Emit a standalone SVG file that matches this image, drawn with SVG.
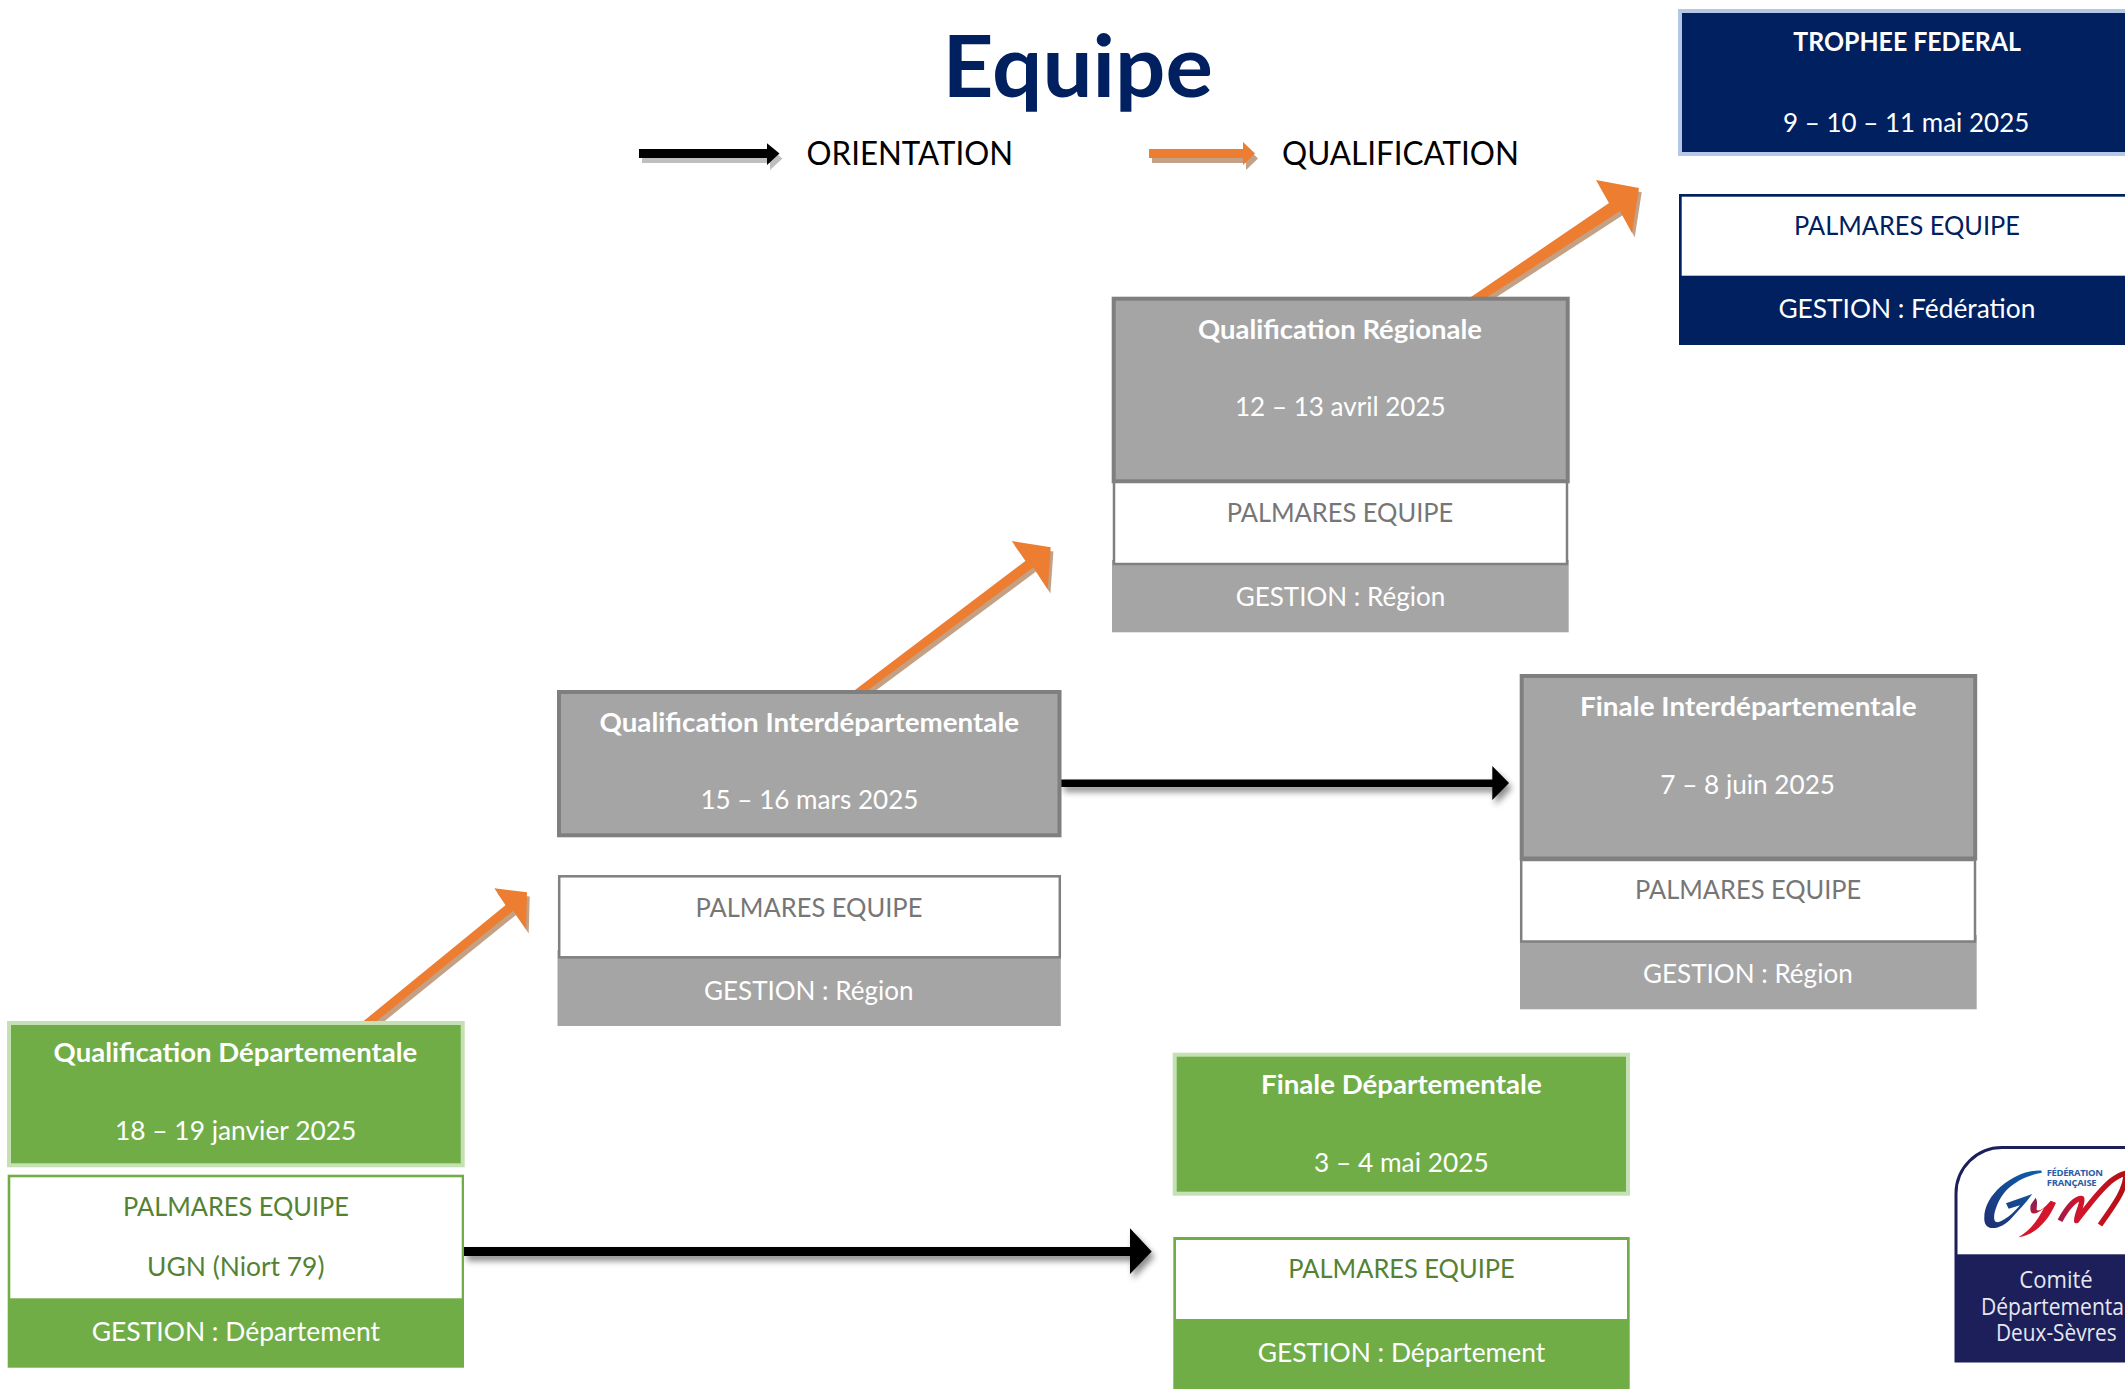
<svg xmlns="http://www.w3.org/2000/svg" width="2125" height="1389" viewBox="0 0 2125 1389">
<style>
text{font-family:"Lato","Carlito","Open Sans",sans-serif;font-size:27.5px;transform:translateY(.7px)}
.b{font-weight:700}
.w{fill:#fff}
.gr{fill:#767676}
.gn{fill:#548235}
.nv{fill:#002060}
.leg{font-size:33px;fill:#000}
.logo{font-family:"Open Sans",sans-serif;font-size:23.5px;fill:#e6e7ef}
.fed{font-family:"Open Sans",sans-serif;font-size:9.5px;font-weight:700;fill:#2a5ca8}
.hgreen{fill:#70ad47;stroke:#c5e0b4;stroke-width:4}
.hgrey{fill:#a5a5a5;stroke:#7f7f7f;stroke-width:4}
.hnavy{fill:#002060;stroke:#b4c7e7;stroke-width:4}
.bgreen{fill:#70ad47}.bgrey{fill:#a5a5a5}.bnavy{fill:#002060}
.inner{fill:#fff}
.or{fill:#ed7d31}.ors{fill:#c4a084}
.bl{fill:#000}.bls{fill:#bfbfbf}
</style>
<defs>
<filter id="soft" x="-5%" y="-60%" width="110%" height="220%"><feDropShadow dx="3" dy="5" stdDeviation="3" flood-color="#000" flood-opacity="0.45"/></filter>
<linearGradient id="gG" x1="1" y1="0" x2="0" y2="1"><stop offset="0" stop-color="#0b62ae"/><stop offset="1" stop-color="#1f2f72"/></linearGradient>
<linearGradient id="gY" x1="0" y1="0" x2="1" y2="1"><stop offset="0" stop-color="#3a2f80"/><stop offset="0.5" stop-color="#d3142a"/><stop offset="1" stop-color="#e01a2b"/></linearGradient>
<linearGradient id="gM" gradientUnits="userSpaceOnUse" x1="420" y1="0" x2="615" y2="0"><stop offset="0" stop-color="#a01c48"/><stop offset="0.3" stop-color="#d3142a"/><stop offset="1" stop-color="#b30f14"/></linearGradient>
<polygon id="a1" points="1466.6,300 1609,203 1596,180 1639,188 1632,233 1620,211 1482.6,300"/>
<polygon id="a2" points="851,693 1025.7,560.7 1011.7,541 1050.7,547.3 1047.7,589.3 1033.3,567.3 864,693"/>
<polygon id="a3" points="360,1024 505.7,905 494.3,888.3 527,892.3 526,929.3 513.3,910.7 373,1024"/>
<polygon id="lk" points="639,149 767,149 767,143.3 779.5,153.5 767,165 767,158 639,158"/>
<polygon id="lo" points="1149,149 1243,149 1243,142 1255,153.5 1243,165 1243,158 1149,158"/>
</defs>
<rect width="2125" height="1389" fill="#fff"/>

<g id="connectors">
<use href="#lk" class="bls" transform="translate(3,5)"/><use href="#lk" class="bl"/>
<use href="#lo" class="ors" transform="translate(3,5)"/><use href="#lo" class="or"/>
<use href="#a1" class="ors" transform="translate(2.7,4.3)"/><use href="#a1" class="or"/>
<use href="#a2" class="ors" transform="translate(2.7,4.3)"/><use href="#a2" class="or"/>
<use href="#a3" class="ors" transform="translate(2.7,4.3)"/><use href="#a3" class="or"/>
<polygon class="bl" filter="url(#soft)" points="464,1247 1130,1247 1130,1228.3 1151.7,1251.5 1130,1274 1130,1256 464,1256"/>
<polygon class="bl" filter="url(#soft)" points="1061,779.5 1492.3,779.5 1492.3,766 1509,783 1492.3,800 1492.3,787 1061,787"/>
</g>

<g id="title"><text class="b nv" style="font-size:87px" x="942.6" y="96.7" textLength="270.4" lengthAdjust="spacingAndGlyphs">Equipe</text></g>
<g id="legend">
<text class="leg" x="806.6" y="164" textLength="206.4" lengthAdjust="spacingAndGlyphs">ORIENTATION</text>
<text class="leg" x="1282" y="164" textLength="237" lengthAdjust="spacingAndGlyphs">QUALIFICATION</text>
</g>

<g id="trophee-federal">
<rect class="hnavy" x="1680" y="11" width="460" height="143"/>
<text class="b w" x="1793.3" y="50.7" textLength="227.7" lengthAdjust="spacingAndGlyphs">TROPHEE FEDERAL</text>
<text class="w" x="1783" y="131" textLength="246.3" lengthAdjust="spacingAndGlyphs">9 – 10 – 11 mai 2025</text>
</g>
<g id="trophee-palmares">
<rect class="bnavy" x="1679" y="194" width="450" height="151"/>
<rect class="inner" x="1681.7" y="196.7" width="450" height="79"/>
<text class="nv" x="1794" y="234.3" textLength="226" lengthAdjust="spacingAndGlyphs">PALMARES EQUIPE</text>
<text class="w" x="1778.4" y="317.7" textLength="257" lengthAdjust="spacingAndGlyphs">GESTION : Fédération</text>
</g>

<g id="qualif-regionale">
<rect class="hgrey" x="1113.7" y="298.7" width="454" height="182.6"/>
<text class="b w" x="1198" y="338.3" textLength="284" lengthAdjust="spacingAndGlyphs">Qualification Régionale</text>
<text class="w" x="1235" y="415" textLength="210.7" lengthAdjust="spacingAndGlyphs">12 – 13 avril 2025</text>
</g>
<g id="regionale-palmares">
<rect class="bgrey" x="1112" y="560" width="456.7" height="72.3"/>
<rect x="1114" y="482" width="453" height="82" fill="#fff" stroke="#808080" stroke-width="2.5"/>
<text class="gr" x="1226.7" y="521.7" textLength="226.6" lengthAdjust="spacingAndGlyphs">PALMARES EQUIPE</text>
<text class="w" x="1235.7" y="605.7" textLength="209.6" lengthAdjust="spacingAndGlyphs">GESTION : Région</text>
</g>

<g id="qualif-interdep">
<rect class="hgrey" x="559" y="692" width="500.5" height="143.3"/>
<text class="b w" x="599.5" y="731.7" textLength="419.6" lengthAdjust="spacingAndGlyphs">Qualification Interdépartementale</text>
<text class="w" x="700.4" y="808.7" textLength="218.1" lengthAdjust="spacingAndGlyphs">15 – 16 mars 2025</text>
</g>
<g id="interdep-palmares">
<rect class="bgrey" x="557.5" y="950" width="503.3" height="76"/>
<rect x="559.2" y="876.3" width="500.6" height="81" fill="#fff" stroke="#808080" stroke-width="2.5"/>
<text class="gr" x="695.4" y="916" textLength="227" lengthAdjust="spacingAndGlyphs">PALMARES EQUIPE</text>
<text class="w" x="704" y="999" textLength="209.5" lengthAdjust="spacingAndGlyphs">GESTION : Région</text>
</g>

<g id="finale-interdep">
<rect class="hgrey" x="1521.7" y="676" width="453.5" height="182.5"/>
<text class="b w" x="1580" y="715.7" textLength="336.7" lengthAdjust="spacingAndGlyphs">Finale Interdépartementale</text>
<text class="w" x="1660.3" y="793.3" textLength="174.7" lengthAdjust="spacingAndGlyphs">7 – 8 juin 2025</text>
</g>
<g id="finale-interdep-palmares">
<rect class="bgrey" x="1520" y="935" width="456.7" height="74.3"/>
<rect x="1521.2" y="860" width="453.8" height="81.5" fill="#fff" stroke="#808080" stroke-width="2.5"/>
<text class="gr" x="1635" y="898.7" textLength="226.3" lengthAdjust="spacingAndGlyphs">PALMARES EQUIPE</text>
<text class="w" x="1643" y="982.7" textLength="209.7" lengthAdjust="spacingAndGlyphs">GESTION : Région</text>
</g>

<g id="qualif-departementale">
<rect class="hgreen" x="9" y="1023" width="453.7" height="142.3"/>
<text class="b w" x="53.6" y="1061.7" textLength="363.7" lengthAdjust="spacingAndGlyphs">Qualification Départementale</text>
<text class="w" x="115" y="1139.3" textLength="241.3" lengthAdjust="spacingAndGlyphs">18 – 19 janvier 2025</text>
</g>
<g id="departementale-palmares">
<rect class="bgreen" x="7.7" y="1174.7" width="456.3" height="193"/>
<rect class="inner" x="10.3" y="1177.3" width="451.4" height="121"/>
<text class="gn" x="123" y="1215" textLength="226" lengthAdjust="spacingAndGlyphs">PALMARES EQUIPE</text>
<text class="gn" x="147" y="1275" textLength="177.5" lengthAdjust="spacingAndGlyphs">UGN (Niort 79)</text>
<text class="w" x="91.7" y="1340.7" textLength="288.3" lengthAdjust="spacingAndGlyphs">GESTION : Département</text>
</g>

<g id="finale-departementale">
<rect class="hgreen" x="1174.7" y="1054.7" width="453.3" height="139"/>
<text class="b w" x="1261" y="1093.3" textLength="280.7" lengthAdjust="spacingAndGlyphs">Finale Départementale</text>
<text class="w" x="1314" y="1171.7" textLength="174.7" lengthAdjust="spacingAndGlyphs">3 – 4 mai 2025</text>
</g>
<g id="finale-departementale-palmares">
<rect class="bgreen" x="1173.3" y="1237" width="456.4" height="155"/>
<rect class="inner" x="1176" y="1240" width="451" height="79"/>
<text class="gn" x="1288.3" y="1277.3" textLength="226.4" lengthAdjust="spacingAndGlyphs">PALMARES EQUIPE</text>
<text class="w" x="1257.7" y="1361.3" textLength="287.6" lengthAdjust="spacingAndGlyphs">GESTION : Département</text>
</g>

<g id="logo">
<path d="M2130 1147.5H2002a46 46 0 0 0-46 46V1361h174z" fill="#fff" stroke="#1c1f5a" stroke-width="3"/>
<rect x="1955.5" y="1254.3" width="175" height="107.5" fill="#1c1f5a"/>
<g transform="translate(1920 1130) scale(.33333)">
<path fill="url(#gG)" d="M365 122C295 116 188 188 193 270C196 308 245 298 275 264C295 242 315 222 337 192L258 220L266 236L300 226C278 252 245 280 228 276C212 268 232 208 260 180C290 150 330 134 365 128Z"/>
<path fill="url(#gY)" d="M332 225C327 255 342 260 372 234C355 265 335 300 295 322C340 315 382 280 408 218L392 212C372 235 358 245 350 240C350 225 354 215 347 203Z"/>
<path fill="none" stroke="url(#gM)" stroke-width="16" stroke-linejoin="round" d="M420 272C440 235 465 205 485 205C490 220 470 250 470 272C495 240 530 190 570 155C590 140 605 132 618 130C618 175 590 215 540 285"/>
</g>
<text class="fed" x="2046.7" y="1175.7" textLength="56.3" lengthAdjust="spacing">FÉDÉRATION</text>
<text class="fed" x="2046.7" y="1185" textLength="50" lengthAdjust="spacing">FRANÇAISE</text>
<text class="logo" x="2019.3" y="1287.3" textLength="73.4" lengthAdjust="spacingAndGlyphs">Comité</text>
<text class="logo" x="1981" y="1314" textLength="143" lengthAdjust="spacingAndGlyphs">Départementa</text>
<text class="logo" x="1996" y="1340" textLength="120.7" lengthAdjust="spacingAndGlyphs">Deux-Sèvres</text>
</g>
</svg>
